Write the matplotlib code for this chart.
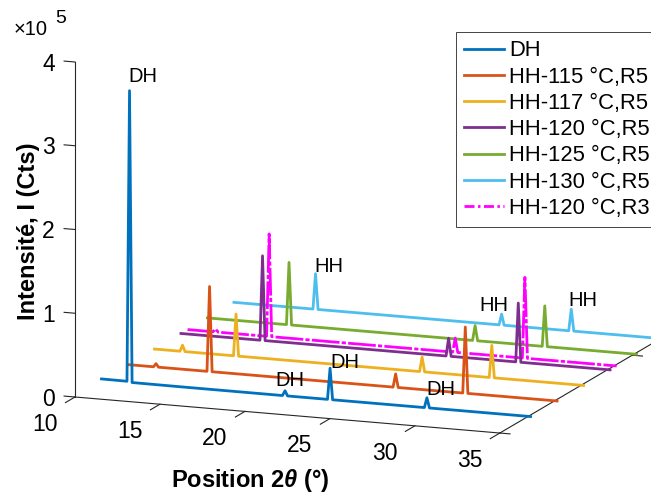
import numpy as np
import matplotlib as mpl
mpl.use('Agg')
from matplotlib import pyplot as plt
from matplotlib.lines import Line2D
from matplotlib.ticker import NullFormatter
from matplotlib.transforms import offset_copy
from mpl_toolkits.mplot3d import proj3d

plt.rcParams['font.family'] = 'Liberation Sans'
plt.rcParams['mathtext.fontset'] = 'custom'
plt.rcParams['mathtext.rm'] = 'Liberation Sans'
plt.rcParams['mathtext.it'] = 'Liberation Sans:italic:bold'
plt.rcParams['xtick.color'] = '#262626'
plt.rcParams['ytick.color'] = '#262626'
plt.rcParams['axes.edgecolor'] = '#262626'

# 2theta grid shared by all patterns (deg)
two_theta = [10.0, 11.5, 11.65, 11.8, 14.65, 14.8, 14.95, 20.65, 20.8, 20.95,
             23.3, 23.45, 23.6, 25.6, 25.75, 25.9, 29.0, 29.15, 29.3,
             29.7, 29.85, 30.0, 35.25]

# intensities (counts)
dh = [3000, 2800, 350000, 1800, 1600, 1600, 1600, 1500, 7500, 1500,
      1500, 39000, 1500, 1500, 1500, 1500, 1500, 13500, 1500,
      1500, 1500, 1500, 1500]
hh_115_r5 = [1500, 1500, 5500, 1500, 1500, 103000, 1500, 1500, 1500, 1500,
             1500, 1500, 1500, 1500, 17500, 1500, 1500, 1500, 1500,
             1500, 80500, 1500, 1500]
hh_117_r5 = [1500, 1500, 9000, 1500, 1500, 51500, 1500, 1500, 1500, 1500,
             1500, 1500, 1500, 1500, 19000, 1500, 1500, 1500, 1500,
             1500, 40000, 1500, 1500]
hh_120_r5 = [1500, 1500, 1500, 1500, 1500, 102500, 1500, 1500, 1500, 1500,
             1500, 1500, 1500, 1500, 23000, 1500, 1500, 1500, 1500,
             1500, 72000, 1500, 1500]
hh_125_r5 = [1500, 1500, 1500, 1500, 1500, 76000, 1500, 1500, 1500, 1500,
             1500, 1500, 1500, 1500, 19500, 1500, 1500, 1500, 1500,
             1500, 50000, 1500, 1500]
hh_130_r5 = [1500, 1500, 1500, 1500, 1500, 44000, 1500, 1500, 1500, 1500,
             1500, 1500, 1500, 1500, 14500, 1500, 1500, 1500, 1500,
             1500, 27500, 1500, 1500]
hh_120_r3 = [1500, 1500, 5000, 1500, 1500, 124000, 1500, 1500, 1500, 1500,
             1500, 1500, 1500, 1500, 18500, 1500, 1500, 1500, 1500,
             1500, 98000, 1500, 1500]

labels = ['DH', 'HH-115 °C,R5', 'HH-117 °C,R5', 'HH-120 °C,R5',
          'HH-125 °C,R5', 'HH-130 °C,R5', 'HH-120 °C,R3']
depth = [1, 2, 3, 4, 5, 6, 4.25]
colors = ['#0072BD', '#D95319', '#EDB120', '#7E2F8E', '#77AC30', '#4DBEEE',
          '#FF00FF']
# dense data in the original makes the dash-dot trace look almost solid
styles = ['-', '-', '-', '-', '-', '-', (0, (10, 0.8, 1.5, 0.8))]
legend_styles = ['-', '-', '-', '-', '-', '-', (0, (3.6, 1.25, 0.9, 1.25))]
values = [dh, hh_115_r5, hh_117_r5, hh_120_r5, hh_125_r5, hh_130_r5, hh_120_r3]

# peak annotations: (2theta, depth, intensity, text)
annot_x = [11.6, 20.26, 23.48, 29.09, 14.76, 24.47, 29.7]
annot_y = [1, 1, 1, 1, 6, 6, 6]
annot_z = [367000, 19000, 46000, 23000, 53000, 23000, 38000]
annot_s = ['DH', 'DH', 'DH', 'DH', 'HH', 'HH', 'HH']

x_ticks = [10, 15, 20, 25, 30, 35]
z_ticks = [0, 1e5, 2e5, 3e5, 4e5]

W, H = 651, 495
fig = plt.figure(figsize=(W / 100, H / 100), dpi=100)
ax = fig.add_axes([0.0, 0.0, 1.0, 1.0], projection='3d', proj_type='ortho')
ax.view_init(elev=12.9, azim=-69.2)
ax.set_box_aspect((454.5, 746.0, 343.7))
ax.set_xlim(10, 35)
ax.set_ylim(0, 10)
ax.set_zlim(0, 4e5)

# draw back to front so the front patterns cover the back ones
for i in np.argsort(depth)[::-1]:
    x = np.array(two_theta)
    ax.plot(x, np.full(x.size, depth[i]), values[i], color=colors[i],
            linestyle=styles[i], lw=2)

ax.grid(False)
ax.patch.set_alpha(0)
# z axis on the front-left edge, ticks pointing out of the box
ax.zaxis.set_ticks_position('lower')
ax.zaxis._get_tickdir = lambda position: 0
for axis, t_out, t_in in ((ax.xaxis, 0.0, 0.45), (ax.yaxis, 0.0, 0.3),
                          (ax.zaxis, 0.32, 0.0)):
    axis.set_pane_color((1, 1, 1, 0))
    axis.line.set_color('#262626')
    axis.line.set_linewidth(0.8)
    axis._axinfo['tick']['inward_factor'] = t_in
    axis._axinfo['tick']['outward_factor'] = t_out
    axis._axinfo['tick']['linewidth'] = {True: 0.8, False: 0.5}
    axis.set_major_formatter(NullFormatter())
    axis.label.set_visible(False)
    axis.offsetText.set_visible(False)

ax.set_xticks(x_ticks)
ax.set_yticks([0, 5])
ax.set_zticks(z_ticks)

# fit the 3d box so that the axis corners land where they are in the figure
fig.canvas.draw()


def proj2d(x, y, z):
    xs, ys, _ = proj3d.proj_transform(x, y, z, ax.M)
    return xs, ys


def to_px(x, y, z):
    return np.array(ax.transData.transform(proj2d(x, y, z)))


p0 = to_px(10, 0, 0)
p2 = to_px(10, 0, 4e5)
t0 = np.array([75.0, H - 397.0])
t2 = np.array([75.0, H - 62.0])
k = np.linalg.norm(t2 - t0) / np.linalg.norm(p2 - p0)
bb = ax.get_position()
ll = np.array([bb.x0 * W, bb.y0 * H])
side = bb.width * W * k
ll_new = t0 - k * (p0 - ll)
ax.set_position([ll_new[0] / W, ll_new[1] / H, side / W, side / H])

# texts tied to 3d points (projection does not change with axes position)
for x, y, z, s in zip(annot_x, annot_y, annot_z, annot_s):
    ax.text2D(*proj2d(x, y, z), s, transform=ax.transData, ha='left',
              va='center', fontsize=14.5)

x_lab = offset_copy(ax.transData, fig=fig, x=-21.6, y=-24.3, units='points')
for t in x_ticks:
    ax.text2D(*proj2d(t, 0, 0), '%g' % t, transform=x_lab, ha='center',
              va='baseline', fontsize=16.5)
z_lab = offset_copy(ax.transData, fig=fig, x=-19.1, y=-6.3, units='points')
for t in z_ticks:
    ax.text2D(*proj2d(10, 0, t), '%g' % (t / 1e5), transform=z_lab,
              ha='center', va='baseline', fontsize=16.5)

fig.text(250 / W, 1 - 486.5 / H, r'Position 2$\theta$ (°)', ha='center',
         va='baseline', fontsize=17, fontweight='bold')
fig.text(28.5 / W, 1 - 231 / H, 'Intensité, I (Cts)', ha='center',
         va='center', rotation=90, fontsize=17, fontweight='bold')
fig.text(14 / W, 1 - 35 / H, '×10', ha='left', va='baseline', fontsize=14.5)
fig.text(55 / W, 1 - 23 / H, '5', ha='left', va='baseline', fontsize=14)

handles = [Line2D([], [], color=c, linestyle=s, lw=2)
           for c, s in zip(colors, legend_styles)]
fig.legend(handles, labels, loc='upper left',
           bbox_to_anchor=(456 / W, 1 - 32 / H), fontsize=15.8,
           fancybox=False, framealpha=1, edgecolor='#262626',
           borderpad=0.38, borderaxespad=0, handlelength=1.8,
           handletextpad=0.25, labelspacing=0.24)
fig.legends[0].get_frame().set_linewidth(0.6)

fig.savefig('out.png', dpi=100)
